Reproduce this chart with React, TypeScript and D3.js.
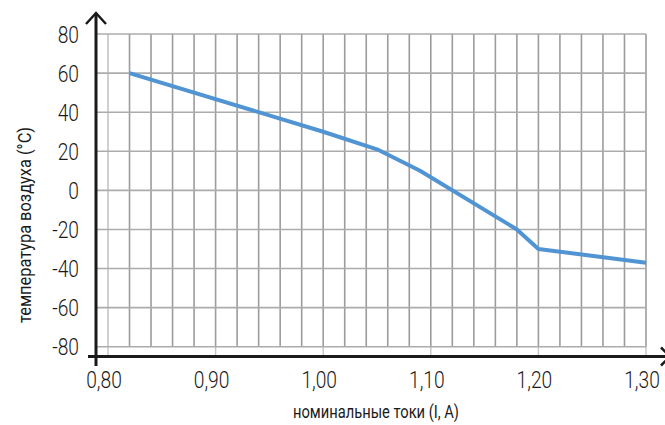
import * as d3 from 'd3';
import { useEffect, useRef } from 'react';

// номинальный ток, А
const currents = [0.82, 1.0, 1.05, 1.09, 1.18, 1.2, 1.3];
// температура воздуха, °C
const temps = [60, 30, 21, 10, -20, -30, -37];

const yTicks = [80, 60, 40, 20, 0, -20, -40, -60, -80];
const xTicks = [0.8, 0.9, 1.0, 1.1, 1.2, 1.3];
const xTickLabels = ['0,80', '0,90', '1,00', '1,10', '1,20', '1,30'];
const xTitle = 'номинальные токи (I, A)';
const yTitle = 'температура воздуха (°C)';

const W = 665;
const H = 425;
const FONT = 'Roboto, "DejaVu Sans", sans-serif';

export default function App() {
    const ref = useRef<SVGSVGElement>(null);

    useEffect(() => {
        const svg = d3.select(ref.current);
        svg.selectAll('*').remove();

        const x = d3.scaleLinear().domain([0.8, 1.3]).range([108, 646]);
        const y = d3.scaleLinear().domain([-80, 80]).range([346.7, 34]);
        const axisX = 96;
        const axisY = 356.5;

        // сетка: вертикальные линии через 0,02
        const minor = d3.range(0, 26).map(i => 0.8 + i * 0.02);
        svg.append('g')
            .selectAll('line')
            .data(minor)
            .join('line')
            .attr('x1', d => x(d)).attr('x2', d => x(d))
            .attr('y1', y(80)).attr('y2', y(-80))
            .attr('stroke', (d, i) => i === 0 ? '#c4c4c4' : '#9c9c9c')
            .attr('stroke-width', 1.6);

        // засечки под сеткой
        svg.append('g')
            .selectAll('line')
            .data(xTicks)
            .join('line')
            .attr('x1', d => x(d)).attr('x2', d => x(d))
            .attr('y1', y(-80)).attr('y2', axisY)
            .attr('stroke', '#c4c4c4')
            .attr('stroke-width', 1.4);

        // горизонтальные линии
        svg.append('g')
            .selectAll('line')
            .data(yTicks)
            .join('line')
            .attr('x1', axisX).attr('x2', x(1.3))
            .attr('y1', d => y(d)).attr('y2', d => y(d))
            .attr('stroke', '#acacac')
            .attr('stroke-width', 1.6);

        // кривая
        const pts = currents.map((c, i) => [c, temps[i]] as [number, number]);
        svg.append('path')
            .datum(pts)
            .attr('fill', 'none')
            .attr('stroke', '#5194d3')
            .attr('stroke-width', 4)
            .attr('stroke-linejoin', 'round')
            .attr('d', d3.line<[number, number]>().x(d => x(d[0])).y(d => y(d[1])));

        // оси
        svg.append('line')
            .attr('x1', axisX).attr('x2', axisX)
            .attr('y1', 13).attr('y2', 366)
            .attr('stroke', '#1a1a1a').attr('stroke-width', 3);
        svg.append('line')
            .attr('x1', 88).attr('x2', 670)
            .attr('y1', axisY).attr('y2', axisY)
            .attr('stroke', '#1a1a1a').attr('stroke-width', 3);
        svg.append('path')
            .attr('d', `M${axisX - 10},${24} L${axisX},${13} L${axisX + 10},${24}`)
            .attr('fill', 'none').attr('stroke', '#1a1a1a').attr('stroke-width', 2.5);
        svg.append('path')
            .attr('d', `M661,${axisY - 9} L670,${axisY} L661,${axisY + 9}`)
            .attr('fill', 'none').attr('stroke', '#1a1a1a').attr('stroke-width', 2.5);

        // подписи оси Y
        svg.append('g')
            .selectAll('text')
            .data(yTicks)
            .join('text')
            .attr('transform', d => `translate(79,${y(d) + 8.5}) scale(0.8,1)`)
            .attr('text-anchor', 'end')
            .attr('font-family', FONT)
            .attr('font-weight', 300)
            .attr('font-size', 24)
            .attr('fill', '#1a1a1a')
            .text(d => String(d));

        // подписи оси X
        svg.append('g')
            .selectAll('text')
            .data(xTicks)
            .join('text')
            .attr('transform', d => `translate(${x(d) - 4},388) scale(0.8,1)`)
            .attr('text-anchor', 'middle')
            .attr('font-family', FONT)
            .attr('font-weight', 300)
            .attr('font-size', 24)
            .attr('fill', '#1a1a1a')
            .text((d, i) => xTickLabels[i]);

        // названия осей
        svg.append('text')
            .attr('x', 376).attr('y', 418)
            .attr('text-anchor', 'middle')
            .attr('font-family', FONT)
            .attr('font-size', 17.5)
            .attr('fill', '#1a1a1a')
            .attr('textLength', 166)
            .attr('lengthAdjust', 'spacingAndGlyphs')
            .text(xTitle);
        svg.append('text')
            .attr('transform', 'translate(31,225) rotate(-90)')
            .attr('text-anchor', 'middle')
            .attr('font-family', FONT)
            .attr('font-size', 17.5)
            .attr('fill', '#1a1a1a')
            .attr('textLength', 196)
            .attr('lengthAdjust', 'spacingAndGlyphs')
            .text(yTitle);
    }, []);

    return (
        <svg ref={ref} width={W} height={H}
            style={{ position: 'absolute', left: 0, top: 0, background: '#fff' }} />
    );
}
